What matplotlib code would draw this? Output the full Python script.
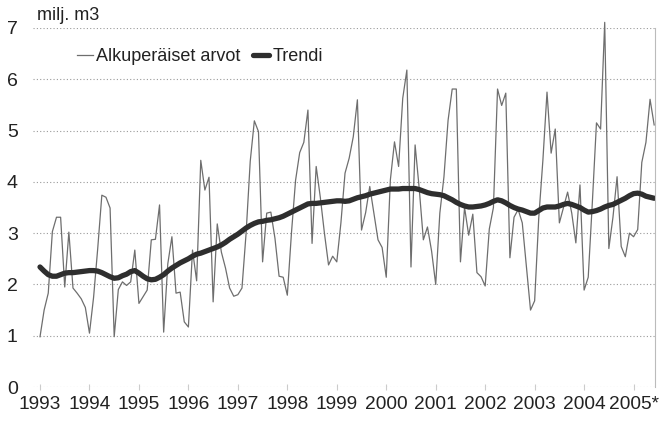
import numpy as np
import matplotlib.pyplot as plt

# monthly values, Jan 1993 - Jun 2005 (milj. m3)
raw = [
    0.98, 1.50, 1.83, 3.03, 3.31, 3.31, 1.95, 3.02, 1.93, 1.83, 1.72, 1.55,  # 1993
    1.05, 1.75, 2.70, 3.74, 3.70, 3.49, 0.98, 1.90, 2.05, 1.98, 2.05, 2.67,  # 1994
    1.63, 1.76, 1.89, 2.87, 2.88, 3.55, 1.07, 2.40, 2.93, 1.83, 1.85, 1.27,  # 1995
    1.17, 2.67, 2.07, 4.42, 3.84, 4.09, 1.66, 3.18, 2.63, 2.32, 1.93, 1.77,  # 1996
    1.80, 1.93, 3.00, 4.40, 5.19, 4.98, 2.44, 3.39, 3.41, 2.90, 2.16, 2.14,  # 1997
    1.79, 3.00, 4.03, 4.57, 4.77, 5.40, 2.80, 4.30, 3.70, 3.00, 2.38, 2.55,  # 1998
    2.44, 3.20, 4.17, 4.46, 4.88, 5.60, 3.06, 3.40, 3.91, 3.39, 2.87, 2.72,  # 1999
    2.14, 4.04, 4.78, 4.30, 5.63, 6.18, 2.34, 4.72, 3.87, 2.87, 3.12, 2.65,  # 2000
    2.00, 3.39, 4.10, 5.20, 5.81, 5.81, 2.44, 3.50, 2.96, 3.37, 2.23, 2.15,  # 2001
    1.97, 3.08, 3.50, 5.81, 5.49, 5.73, 2.52, 3.31, 3.46, 3.20, 2.34, 1.50,  # 2002
    1.68, 3.30, 4.42, 5.75, 4.56, 5.03, 3.20, 3.50, 3.80, 3.39, 2.81, 3.94,  # 2003
    1.89, 2.14, 3.60, 5.15, 5.03, 7.11, 2.70, 3.31, 4.10, 2.74, 2.54, 3.00,  # 2004
    2.93, 3.07, 4.38, 4.77, 5.61, 5.11,                                      # 2005
]

trend = [
    2.34, 2.26, 2.19, 2.16, 2.16, 2.19, 2.22, 2.23, 2.23, 2.24, 2.25, 2.26,
    2.27, 2.27, 2.26, 2.23, 2.19, 2.15, 2.12, 2.13, 2.17, 2.20, 2.25, 2.27,
    2.22, 2.16, 2.11, 2.09, 2.10, 2.14, 2.19, 2.26, 2.32, 2.37, 2.42, 2.46,
    2.50, 2.55, 2.59, 2.61, 2.64, 2.67, 2.70, 2.73, 2.77, 2.82, 2.88, 2.93,
    2.98, 3.04, 3.10, 3.15, 3.19, 3.22, 3.23, 3.25, 3.26, 3.28, 3.30, 3.33,
    3.37, 3.41, 3.45, 3.49, 3.53, 3.57, 3.58, 3.58, 3.59, 3.60, 3.61, 3.62,
    3.63, 3.63, 3.62, 3.63, 3.66, 3.69, 3.71, 3.73, 3.76, 3.78, 3.80, 3.82,
    3.84, 3.86, 3.86, 3.86, 3.87, 3.87, 3.87, 3.87, 3.85, 3.82, 3.79, 3.77,
    3.76, 3.75, 3.73, 3.69, 3.65, 3.60, 3.56, 3.53, 3.51, 3.51, 3.52, 3.53,
    3.55, 3.58, 3.62, 3.65, 3.63, 3.59, 3.54, 3.50, 3.47, 3.45, 3.42, 3.39,
    3.39, 3.44, 3.49, 3.51, 3.51, 3.51, 3.53, 3.56, 3.58, 3.56, 3.53, 3.50,
    3.45, 3.41, 3.42, 3.44, 3.47, 3.51, 3.54, 3.56, 3.60, 3.64, 3.68, 3.73,
    3.77, 3.78, 3.76, 3.72, 3.70, 3.68,
]

years = ["1993", "1994", "1995", "1996", "1997", "1998", "1999", "2000",
         "2001", "2002", "2003", "2004", "2005*"]

plt.rcParams['font.family'] = ['Liberation Sans', 'DejaVu Sans']

months = np.arange(len(raw))

fig = plt.figure(figsize=(6.63, 4.26), dpi=100)
ax = fig.add_axes([33 / 663, 39 / 426, 622 / 663, 359 / 426])

ax.plot(months, raw, color='#6e6e6e', lw=0.9, label='Alkuperäiset arvot',
        clip_on=False)
ax.plot(months, trend, color='#2e2e2e', lw=3.8, label='Trendi',
        solid_capstyle='round')

ax.set_xlim(-1.7, 149.2)
ax.set_ylim(0, 7)
ax.set_yticks(range(0, 8))
ax.set_xticks(np.arange(len(years)) * 12)
ax.set_xticklabels(years)

ax.grid(axis='y', color='#9a9a9a', lw=0.8, linestyle=(0, (1, 2)))
ax.set_axisbelow(True)
for s in ['top', 'bottom', 'left']:
    ax.spines[s].set_visible(False)
ax.spines['right'].set_color('#bbbbbb')
ax.spines['right'].set_linewidth(0.8)

ax.tick_params(axis='y', length=0, pad=11, labelsize=14, colors='#222222')
ax.tick_params(axis='x', length=5, direction='inout', color='#cccccc',
               pad=4, labelsize=13.8, labelcolor='#222222')

fig.text(37 / 663, 1 - 20 / 426, 'milj. m3', fontsize=13, color='#222222',
         va='baseline')

ax.legend(loc='upper left', bbox_to_anchor=(0.045, 0.99), ncol=2,
          frameon=False, fontsize=13, handlelength=0.9, handletextpad=0.15,
          columnspacing=0.7, labelcolor='#222222')

fig.savefig('out.png', dpi=100)
